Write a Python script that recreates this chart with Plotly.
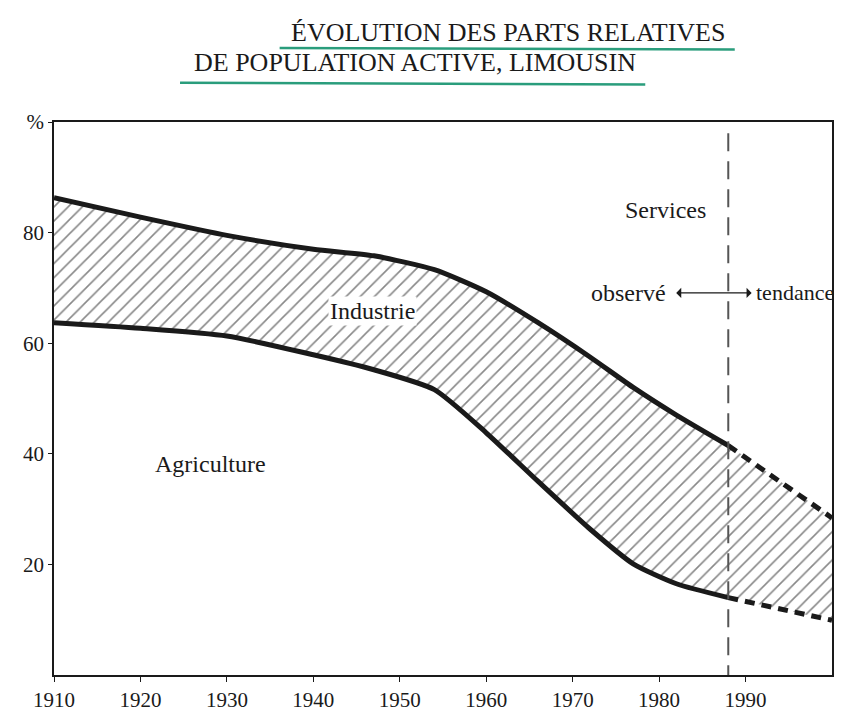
import plotly.graph_objects as go

# ---- data ----
years_obs = [1910, 1920, 1930, 1940, 1947, 1954, 1960, 1966, 1972, 1977, 1982, 1988]
agri_obs = [63.7, 62.7, 61.3, 57.9, 55.2, 51.6, 43.8, 35.0, 26.4, 20.1, 16.5, 14.0]
agri_ind_obs = [86.3, 82.8, 79.5, 77.0, 75.8, 73.3, 69.3, 63.7, 57.5, 52.0, 47.0, 41.5]
years_trend = [1988, 2000]
agri_trend = [14.0, 9.9]
agri_ind_trend = [41.5, 28.4]
split_year = 1988

x_ticks = [1910, 1920, 1930, 1940, 1950, 1960, 1970, 1980, 1990]
y_ticks = [20, 40, 60, 80, 100]
y_ticktext = ["20", "40", "60", "80", "%"]

title_1 = "ÉVOLUTION DES PARTS RELATIVES"
title_2 = "DE POPULATION ACTIVE, LIMOUSIN"

SERIF = "Liberation Serif"
INK = "#1a1a1a"

years_all = years_obs + years_trend[1:]
agri_all = agri_obs + agri_trend[1:]
agri_ind_all = agri_ind_obs + agri_ind_trend[1:]

fig = go.Figure()

# hatched band (Industrie) between agriculture and agriculture+industrie
fig.add_trace(go.Scatter(x=years_all, y=agri_all, mode="lines",
                         line=dict(width=0, color="rgba(0,0,0,0)", shape="spline", smoothing=0.6),
                         showlegend=False, hoverinfo="skip"))
fig.add_trace(go.Scatter(x=years_all, y=agri_ind_all, mode="lines",
                         line=dict(width=0, color="rgba(0,0,0,0)", shape="spline", smoothing=0.6),
                         fill="tonexty", fillcolor="rgba(0,0,0,0)",
                         fillpattern=dict(shape="/", size=10, solidity=0.16,
                                          fgcolor="#111111", bgcolor="white"),
                         showlegend=False, hoverinfo="skip"))

# observed boundaries (solid thick)
for ys in (agri_obs, agri_ind_obs):
    fig.add_trace(go.Scatter(x=years_obs, y=ys, mode="lines",
                             line=dict(color=INK, width=5, shape="spline", smoothing=0.6),
                             showlegend=False, hoverinfo="skip"))
# trend boundaries (dashed thick)
for ys in (agri_trend, agri_ind_trend):
    fig.add_trace(go.Scatter(x=years_trend, y=ys, mode="lines",
                             line=dict(color=INK, width=5, dash="10px,7px"),
                             showlegend=False, hoverinfo="skip"))

# vertical dashed separation line
fig.add_shape(type="line", xref="x", yref="y", x0=split_year, x1=split_year,
              y0=-1.5, y1=98.5, line=dict(color="#555555", width=2, dash="18px,10px"))

# title underlines (green highlighter strokes)
fig.add_shape(type="line", xref="paper", yref="paper", x0=0.29, x1=0.875,
              y0=1.134, y1=1.131, line=dict(color="#2a9d7c", width=2.5))
fig.add_shape(type="line", xref="paper", yref="paper", x0=0.162, x1=0.76,
              y0=1.071, y1=1.068, line=dict(color="#2a9d7c", width=2.5))

ann_font = dict(family=SERIF, size=24, color=INK)
annotations = [
    dict(text=title_1, x=0.5835, y=1.161, xref="paper", yref="paper",
         xanchor="center", yanchor="middle",
         showarrow=False, font=dict(family=SERIF, size=26, color=INK)),
    dict(text=title_2, x=0.464, y=1.107, xref="paper", yref="paper",
         xanchor="center", yanchor="middle",
         showarrow=False, font=dict(family=SERIF, size=26, color=INK)),
    dict(text="Services", x=1980.7, y=84.1, showarrow=False, font=ann_font),
    dict(text="observé", x=1981.0, y=69.1, xanchor="right", showarrow=False, font=ann_font),
    dict(text="tendance", x=1991.0, y=69.1, xanchor="left", showarrow=False,
         font=dict(family=SERIF, size=22, color=INK)),
    dict(text="Industrie", x=1946.8, y=65.8, showarrow=False, font=ann_font,
         bgcolor="white"),
    dict(text="Agriculture", x=1928.1, y=38.2, showarrow=False, font=ann_font),
    dict(text="", x=1990.7, y=69.1, ax=1981.8, ay=69.1, axref="x", ayref="y",
         showarrow=True, arrowside="end+start", arrowhead=1, startarrowhead=1,
         arrowsize=1.3, startarrowsize=1.3, arrowwidth=1.3, arrowcolor=INK),
]

fig.update_layout(
    width=848, height=724,
    margin=dict(l=54, r=16, t=122, b=49),
    paper_bgcolor="white", plot_bgcolor="white",
    showlegend=False,
    annotations=annotations,
    font=dict(family=SERIF, color=INK),
)
fig.update_xaxes(range=[1910, 2000], tickvals=x_ticks, ticks="outside", ticklen=5,
                 tickcolor=INK, showgrid=False, zeroline=False,
                 showline=True, linecolor=INK, linewidth=2, mirror=True,
                 tickfont=dict(family=SERIF, size=21, color=INK))
fig.update_yaxes(range=[0, 100], tickvals=y_ticks, ticktext=y_ticktext,
                 ticks="outside", ticklen=4, tickcolor=INK, showgrid=False,
                 zeroline=False, showline=True, linecolor=INK, linewidth=1.5,
                 mirror=True, tickfont=dict(family=SERIF, size=21, color=INK))

fig.write_html("out.html", config={"displayModeBar": False},
               post_script="document.body.style.margin='0';document.body.style.overflow='hidden';")
